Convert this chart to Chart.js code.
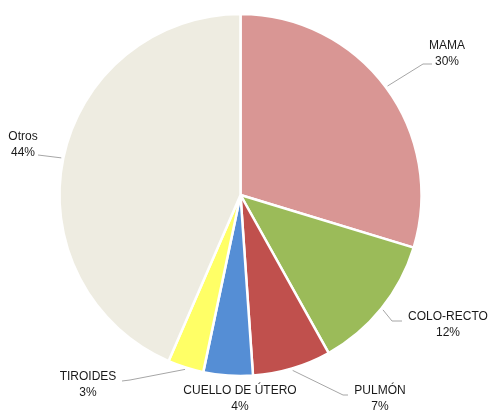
<!DOCTYPE html>
<html>
<head>
<meta charset="utf-8">
<script src="https://cdn.jsdelivr.net/npm/chart.js@4"></script>
<style>
  html, body { margin: 0; padding: 0; background: #fff; }
  #wrap { width: 490px; height: 412px; }
</style>
</head>
<body>
<div id="wrap"><canvas id="myChart" width="490" height="412"></canvas></div>
<script>
const categories = ['MAMA', 'COLO-RECTO', 'PULMÓN', 'CUELLO DE ÚTERO', 'TIROIDES', 'Otros'];
// slice shares (labels show them rounded)
const shares = [29.7, 12.2, 7.0, 4.4, 3.2, 43.5];
const colors = ['#d99694', '#9bbb59', '#c0504d', '#558ed5', '#ffff66', '#eeece1'];

// where each label sits, relative to the pie centre (elbow of leader line, end of line, text centre)
const labelLayout = [
    { elbow: [182.5, -131], end: [191.5, -131], text: [206.5, -141] },
    { elbow: [151.5, 126], end: [161.5, 126], text: [207.5, 129.5] },
    { elbow: [102.5, 200], end: [107.5, 200], text: [139.5, 204] },
    { elbow: null, end: null, text: [-0.5, 204] },
    { elbow: [-110.5, 185], end: [-118.5, 186], text: [-152.5, 190] },
    { elbow: [-202.5, -40], end: [-202.5, -40], text: [-217.5, -50] }
];

const outsideLabels = {
    id: 'outsideLabels',
    afterDatasetsDraw(chart) {
        const ctx = chart.ctx;
        const meta = chart.getDatasetMeta(0);
        const values = chart.data.datasets[0].data;
        ctx.save();
        meta.data.forEach((arc, i) => {
            const p = arc.getProps(['x', 'y', 'startAngle', 'endAngle', 'outerRadius'], true);
            const mid = (p.startAngle + p.endAngle) / 2;
            const lay = labelLayout[i];
            if (lay.elbow) {
                const sx = p.x + Math.cos(mid) * (p.outerRadius + 2);
                const sy = p.y + Math.sin(mid) * (p.outerRadius + 2);
                ctx.beginPath();
                ctx.strokeStyle = '#a6a6a6';
                ctx.lineWidth = 1;
                ctx.moveTo(sx, sy);
                ctx.lineTo(p.x + lay.elbow[0], p.y + lay.elbow[1]);
                ctx.lineTo(p.x + lay.end[0], p.y + lay.end[1]);
                ctx.stroke();
            }
            ctx.fillStyle = '#1a1a1a';
            ctx.font = '12px "Liberation Sans", Arial, sans-serif';
            ctx.textAlign = 'center';
            ctx.textBaseline = 'middle';
            const tx = p.x + lay.text[0];
            const ty = p.y + lay.text[1];
            ctx.fillText(chart.data.labels[i], tx, ty - 8);
            ctx.fillText(Math.round(values[i]) + '%', tx, ty + 8);
        });
        ctx.restore();
    }
};

var ctx = document.getElementById('myChart').getContext('2d');
const chart = new Chart(ctx, {
    type: 'pie',
    data: {
        labels: categories,
        datasets: [{
            data: shares,
            backgroundColor: colors,
            borderColor: '#ffffff',
            borderWidth: 2.5
        }]
    },
    options: {
        responsive: false,
        animation: false,
        radius: 181,
        layout: { padding: { top: 15, bottom: 37, left: 60, right: 69 } },
        plugins: {
            legend: { display: false },
            tooltip: { enabled: false }
        }
    },
    plugins: [outsideLabels]
});
</script>
</body>
</html>
